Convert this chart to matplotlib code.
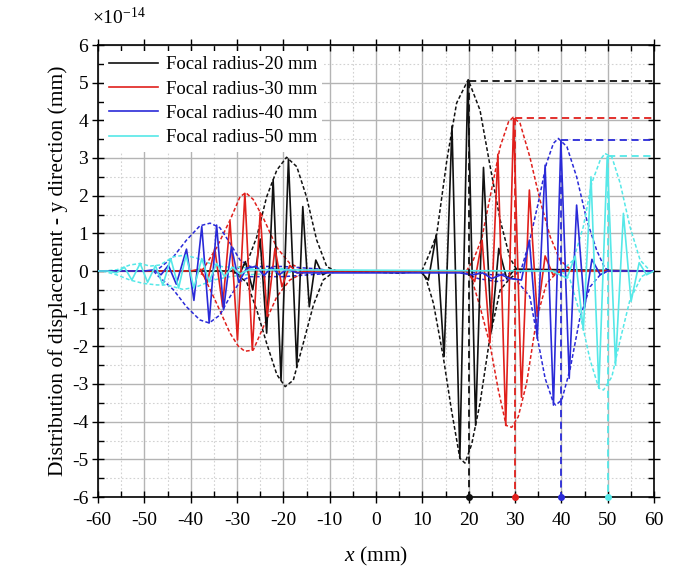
import matplotlib
matplotlib.use("Agg")
import matplotlib.pyplot as plt
from matplotlib.ticker import MultipleLocator
import numpy as np

plt.rcParams['font.family'] = ['Liberation Serif', 'DejaVu Serif']
plt.rcParams['mathtext.fontset'] = 'custom'
plt.rcParams['mathtext.rm'] = 'Liberation Serif'
plt.rcParams['mathtext.it'] = 'Liberation Serif:italic'
plt.rcParams['axes.unicode_minus'] = False

# ---------------- data (y values in units of 1e-14 mm) ----------------
series_names = ['Focal radius-20 mm', 'Focal radius-30 mm',
                'Focal radius-40 mm', 'Focal radius-50 mm']
series_colors = ['#111111', '#e0201c', '#2a2ad8', '#55e8e8']
focal_x = [20, 30, 40, 50]
peak_amp = [5.05, 4.05, 3.47, 3.05]

# waveform extrema, radius 20 mm
r20_x = [-60, -31, -29.5, -28.2, -26.6, -25.0, -23.6, -22.2, -20.5, -18.9, -17.1,
         -15.8, -14.4, -13.0, -11.5, -10, 9.5, 11.3, 13.0, 14.7, 16.4, 18.1, 19.8,
         21.5, 23.2, 24.9, 26.5, 28.2, 30, 60]
r20_y = [0, 0, -0.1, 0.25, -0.5, 0.85, -1.65, 2.42, -2.9, 2.97, -2.55,
         1.71, -0.95, 0.29, -0.1, 0, 0, -0.24, 0.96, -2.27, 3.85, -4.97, 5.05,
         -4.1, 2.75, -1.6, 0.6, -0.2, 0.05, 0]
# waveform extrema, radius 30 mm
r30_x = [-60, -40, -38.0, -36.4, -34.8, -33.1, -31.5, -29.9, -28.3, -26.7, -25.0,
         -23.5, -21.8, -20.3, -18.6, -17.0, -15, 19.5, 21.3, 22.9, 24.6, 26.3,
         28.0, 29.7, 31.4, 33.1, 34.8, 36.5, 38.2, 40, 60]
r30_y = [0, 0, 0.05, -0.3, 0.6, -0.95, 1.31, -1.83, 2.06, -2.1, 1.55,
         -1.2, 0.6, -0.42, 0.15, -0.05, 0, 0, -0.28, 0.82, -1.9, 3.1,
         -4.1, 4.05, -3.35, 2.15, -1.2, 0.4, -0.1, 0, 0]
# waveform extrema, radius 40 mm
r40_x = [-60, -50, -48, -46.4, -44.8, -43.1, -40.9, -39.3, -37.6, -36.0, -34.4,
         -32.9, -31.2, -29.6, -27.9, -25.8, -24.2, -22.5, -20.9, -19.2, -17, -11,
         18, 21, 23, 25, 27, 29, 31.4, 33.1, 34.8, 36.5, 38.3, 39.9, 41.7, 43.3,
         45.0, 46.6, 48.4, 50, 60]
r40_y = [0, 0, 0.03, -0.1, 0.15, -0.35, 0.58, -0.78, 1.18, -1.38, 1.22,
         -1.03, 0.65, -0.3, 0.08, 0.12, -0.12, 0.1, -0.1, 0.05, -0.05, -0.05,
         -0.05, -0.1, -0.05, -0.2, -0.1, -0.2, -0.24, 0.82, -1.79, 2.81, -3.56, 3.43, -2.85, 1.75,
         -0.99, 0.31, -0.1, 0, 0]
# waveform extrema, radius 50 mm
r50_x = [-60, -58, -56.0, -54.3, -52.7, -50.9, -49.3, -47.6, -46.0, -44.3, -42.6,
         -41.0, -39.3, -37.6, -36.0, -34.4, -32.7, -31.0, -29.4, -27.5, -20, 38,
         41.2, 43.0, 44.75, 46.4, 48.1, 49.9, 51.7, 53.4, 55.05, 56.8, 58.4, 60]
r50_y = [0, 0, -0.05, 0.1, -0.24, 0.2, -0.3, 0.14, -0.37, 0.33, -0.45,
         0.42, -0.45, 0.33, -0.28, 0.2, -0.15, 0.1, -0.08, 0.03, 0.03, 0,
         -0.19, 0.4, -1.57, 2.5, -3.11, 3.03, -2.5, 1.53, -0.81, 0.22, -0.1, 0]

# envelopes: (upper/lower, left/right burst)
env20_ul_x = [-31, -27.9, -25.75, -23.6, -21.4, -19.3, -17.1, -15.0, -12.8, -10.6, -8.5]
env20_ul_y = [0, 0.2, 0.9, 1.97, 2.68, 3.02, 2.77, 1.97, 0.82, 0.11, 0]
env20_ll_x = [-31, -27.9, -25.75, -23.6, -21.4, -19.6, -17.85, -15.7, -13.5, -11.4, -9.2]
env20_ll_y = [0, -0.3, -1.03, -1.92, -2.75, -3.07, -2.9, -1.92, -0.9, -0.24, -0.03]
env20_ur_x = [9.9, 11.5, 13.1, 15.3, 17.4, 19.9, 22.45, 24.6, 26.8, 28.9, 30.3, 32]
env20_ur_y = [0, 0.45, 0.97, 2.95, 4.46, 5.08, 4.27, 2.8, 1.35, 0.35, 0.05, 0]
env20_lr_x = [9.9, 10.9, 12.4, 14.5, 16.3, 18.1, 19.2, 20.65, 22.45, 24.6, 26.8, 28.9, 31]
env20_lr_y = [0, -0.24, -0.86, -2.27, -3.7, -4.97, -5.1, -4.6, -3.51, -1.75, -0.5, -0.2, 0]
env20_mid_x = [-9, 0, 5, 9.9]
env20_mid_y = [0, -0.03, -0.06, 0]

env30_ul_x = [-39, -37.3, -34.4, -31.5, -29.35, -28.1, -26.5, -24.3, -21.4, -18.6, -15.7, -14]
env30_ul_y = [0, 0.05, 0.62, 1.35, 1.97, 2.08, 1.9, 1.4, 0.62, 0.2, 0.03, 0]
env30_ll_x = [-39, -37.3, -34.4, -31.5, -29.7, -28.3, -26.5, -24.3, -21.4, -18.6, -15.7, -14]
env30_ll_y = [0, -0.1, -0.86, -1.65, -2.0, -2.13, -2.1, -1.48, -0.68, -0.24, -0.05, 0]
env30_ur_x = [19.5, 21.0, 22.8, 24.6, 26.8, 28.6, 29.6, 31.1, 33.2, 35.4, 37.6, 39.7, 41.9]
env30_ur_y = [0, 0.29, 0.85, 1.95, 3.3, 3.96, 4.08, 3.92, 3.03, 1.88, 0.91, 0.29, 0.05]
env30_lr_x = [19.5, 20.3, 22.45, 24.6, 26.4, 28.1, 29.3, 30.7, 32.5, 34.7, 36.8, 39, 41]
env30_lr_y = [0, -0.06, -0.95, -1.95, -3.16, -4.1, -4.15, -3.87, -2.98, -1.25, -0.33, -0.05, 0]

env40_ul_x = [-48, -47.3, -43.7, -40.9, -38.0, -35.8, -33.7, -31.5, -29.35, -27.2, -20, -12, -10]
env40_ul_y = [0, 0.02, 0.38, 0.82, 1.2, 1.27, 1.15, 0.74, 0.29, 0.12, 0.12, 0.05, 0]
env40_ll_x = [-48, -47.3, -43.7, -40.9, -38.0, -36.0, -33.7, -31.5, -29.35, -27.2, -20, -12, -10]
env40_ll_y = [0, -0.1, -0.5, -0.95, -1.3, -1.38, -1.17, -0.68, -0.28, -0.15, -0.15, -0.08, 0]
env40_ur_x = [18, 25, 31.1, 33.2, 35.0, 36.8, 38.3, 39.35, 41.2, 43.3, 45.5, 47.6, 49.4, 51]
env40_ur_y = [0, -0.1, -0.06, 0.82, 1.8, 2.86, 3.39, 3.52, 3.3, 2.5, 1.35, 0.56, 0.07, 0]
env40_lr_x = [18, 22, 26, 30, 33.2, 34.8, 36.5, 38.3, 38.8, 40.1, 41.9, 44.0, 46.2, 48.4, 50]
env40_lr_y = [0, -0.2, -0.28, -0.2, -0.68, -1.75, -2.85, -3.5, -3.56, -3.42, -2.6, -1.25, -0.42, -0.1, 0]

env50_ul_x = [-59, -56, -53.1, -50.9, -48.8, -46.6, -43.7, -41.2, -38.7, -35.8, -33.0, -30.1, -27, -20, -15]
env50_ul_y = [0, 0.03, 0.16, 0.2, 0.13, 0.16, 0.38, 0.42, 0.34, 0.2, 0.11, 0.1, 0.08, 0.06, 0]
env50_ll_x = [-59, -56, -53.1, -50.2, -47.3, -45.2, -41.6, -38.7, -35.1, -31.5, -27.9, -20, -15]
env50_ll_y = [0, -0.1, -0.24, -0.33, -0.37, -0.37, -0.49, -0.42, -0.24, -0.15, -0.1, -0.05, 0]
env50_ur_x = [40, 42.6, 44.75, 46.55, 48.4, 49.4, 50.9, 52.7, 54.8, 57, 59.2, 60]
env50_ur_y = [0, 0.29, 1.18, 2.33, 2.95, 3.12, 3.03, 2.33, 1.18, 0.29, 0, 0]
env50_lr_x = [40, 41.9, 44.0, 46.2, 48.1, 49.1, 50.9, 52.7, 54.8, 57.3, 59.4, 60]
env50_lr_y = [0, -0.24, -1.12, -2.36, -3.11, -3.16, -2.81, -1.83, -0.77, -0.15, 0, 0]

x_ticks = [-60, -50, -40, -30, -20, -10, 0, 10, 20, 30, 40, 50, 60]
y_ticks = [-6, -5, -4, -3, -2, -1, 0, 1, 2, 3, 4, 5, 6]

waves = [(r20_x, r20_y), (r30_x, r30_y), (r40_x, r40_y), (r50_x, r50_y)]
envelopes = [
    [(env20_ul_x, env20_ul_y), (env20_ll_x, env20_ll_y), (env20_ur_x, env20_ur_y),
     (env20_lr_x, env20_lr_y), (env20_mid_x, env20_mid_y)],
    [(env30_ul_x, env30_ul_y), (env30_ll_x, env30_ll_y), (env30_ur_x, env30_ur_y), (env30_lr_x, env30_lr_y)],
    [(env40_ul_x, env40_ul_y), (env40_ll_x, env40_ll_y), (env40_ur_x, env40_ur_y), (env40_lr_x, env40_lr_y)],
    [(env50_ul_x, env50_ul_y), (env50_ll_x, env50_ll_y), (env50_ur_x, env50_ur_y), (env50_lr_x, env50_lr_y)],
]

# ---------------- figure ----------------
fig = plt.figure(figsize=(6.81, 5.73), dpi=100)
ax = fig.add_axes([98/681, 1-497/573, (654-98)/681, (497-45)/573])

for i in range(4):
    c = series_colors[i]
    for ex, ey in envelopes[i]:
        ax.plot(ex, ey, color=c, lw=1.1, ls=(0, (2.5, 1.5)), zorder=2 + i * 0.1)
for i in range(4):
    c = series_colors[i]
    wx, wy = waves[i]
    ax.plot(wx, wy, color=c, lw=1.2, zorder=3 + i * 0.1, label=series_names[i])

for i in range(4):
    c = series_colors[i]
    ax.plot([focal_x[i], 60], [peak_amp[i], peak_amp[i]], color=c, lw=1.3,
            ls=(0, (4, 2.5)), zorder=4)
    ax.plot([focal_x[i], focal_x[i]], [peak_amp[i], -6], color=c, lw=1.3,
            ls=(0, (4, 2.5)), zorder=4)
    ax.plot([focal_x[i]], [-6], marker='o', ms=4, color=c, clip_on=False, zorder=6)

ax.set_xlim(-60, 60)
ax.set_ylim(-6, 6)
ax.set_xticks(x_ticks)
ax.set_xticklabels([str(v) for v in x_ticks])
ax.set_yticks(y_ticks)
ax.set_yticklabels([str(v) for v in y_ticks])
ax.xaxis.set_minor_locator(MultipleLocator(5))
ax.yaxis.set_minor_locator(MultipleLocator(0.5))
ax.grid(which='major', color='#b4b4b4', lw=1.0, zorder=0)
ax.grid(which='minor', color='#d2d2d2', lw=0.8, ls=(0, (1.5, 2)), zorder=0)
ax.set_axisbelow(True)
ax.tick_params(which='major', direction='inout', length=8, width=1.0,
               labelsize=14, top=True, right=True, pad=3)
ax.tick_params(axis='x', which='major', pad=7)
ax.tick_params(which='minor', direction='in', length=4, width=1.0,
               top=True, right=True)
for s in ax.spines.values():
    s.set_linewidth(1.2)

ax.set_xlabel(r'$x$ (mm)', fontsize=15.5, labelpad=11)
ax.set_ylabel('Distribution of displacement - y direction (mm)', fontsize=15.5, labelpad=3)
fig.text(92/681, 1-17/573, r'$\times\mathregular{10^{-14}}$', fontsize=14,
         va='center', ha='left')

leg = ax.legend(loc='upper left', bbox_to_anchor=(0.0, 1.0), fontsize=13.5,
                frameon=True, framealpha=1, facecolor='white', edgecolor='none',
                handlelength=2.6, handletextpad=0.4, labelspacing=0.38,
                borderaxespad=0.3, borderpad=0.3)
leg.set_zorder(10)

fig.savefig('out.png', dpi=100)
